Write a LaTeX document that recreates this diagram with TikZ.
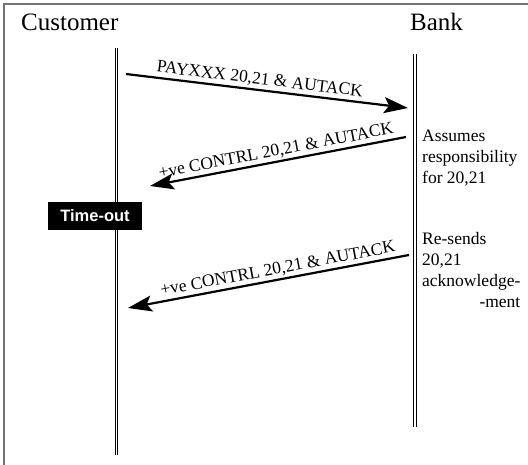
\documentclass[tikz,border=0pt]{standalone}
\usepackage{fontspec}
\setmainfont{Liberation Serif}
\newfontfamily\arialfont{Liberation Sans}
\usetikzlibrary{arrows.meta}
\begin{document}
\begin{tikzpicture}[x=1pt,y=-1pt,
  frame/.style={black!55, line width=1.5pt},
  lifeline/.style={double, double distance=1.8pt, line width=0.9pt},
  msg/.style={line width=2.2pt, -{Stealth[length=24pt,width=16pt,inset=5pt]}},
  msglabel/.style={sloped, above, inner sep=2pt, font=\fontsize{17.5}{20}\selectfont},
  head/.style={font=\fontsize{25}{29}\selectfont, inner sep=0pt, anchor=base west},
  note/.style={font=\fontsize{17.5}{21}\selectfont, inner sep=0pt, anchor=base west},
  timeout/.style={fill=black, text=white, inner sep=0pt, minimum width=94pt, minimum height=28pt,
    font=\arialfont\bfseries\fontsize{16.5}{20}\selectfont},
]
\useasboundingbox (0,0) rectangle (528,465);
\draw[frame] (4,465) -- (4,4) -- (528,4);

% headings
\node[head] (cust) at (21,30.5) {Customer};
\node[head] (bank) at (410,30.5) {Bank};

% lifelines
\coordinate (ctop) at (116.5,48);
\coordinate (cbot) at (116.5,455);
\coordinate (btop) at (415,54);
\coordinate (bbot) at (415,427);
\draw[lifeline] (ctop) -- (cbot);
\draw[lifeline] (btop) -- (bbot);

% message end points
\coordinate (c1) at (126,74);
\coordinate (b1) at (408,108);
\coordinate (b2) at (406,137);
\coordinate (c2) at (150,186);
\coordinate (b3) at (409,255);
\coordinate (c3) at (128,308);

\draw[msg] (c1) -- node[msglabel, pos=0.47] {PAYXXX 20,21 \& AUTACK} (b1);
\draw[msg] (b2) -- node[msglabel, pos=0.5] {+ve CONTRL 20,21 \& AUTACK} (c2);
\draw[msg] (b3) -- node[msglabel, pos=0.46] {+ve CONTRL 20,21 \& AUTACK} (c3);

% time-out
\node[timeout] (to) at (95,216) {Time-out};

% notes
\node[note] (n1) at (422,141.7) {\begin{tabular}[t]{@{}l@{}}Assumes\\responsibility\\for 20,21\end{tabular}};
\node[note] (n2) at (422,245) {\begin{tabular}[t]{@{}l@{}}Re-sends\\20,21\\acknowledge-\\\multicolumn{1}{@{}r@{}}{-ment}\end{tabular}};
\end{tikzpicture}
\end{document}
